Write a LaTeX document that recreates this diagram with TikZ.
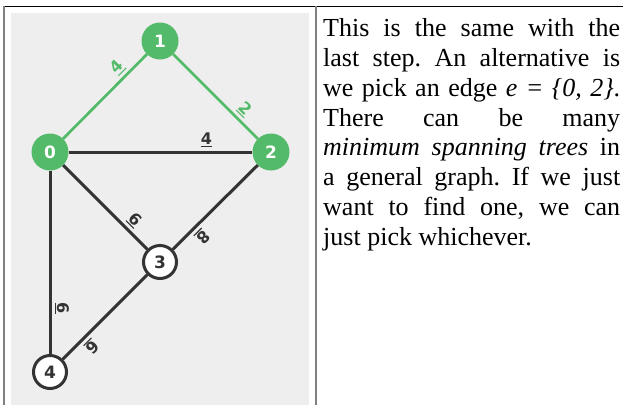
\documentclass[tikz,border=0pt]{standalone}
\usepackage{fontspec}
\setmainfont{Liberation Serif}
\newfontfamily\djsans{DejaVu Sans}
\definecolor{mstgreen}{RGB}{82,186,104}
\definecolor{edgedark}{RGB}{51,51,51}
\definecolor{panelgray}{RGB}{238,238,238}
\definecolor{bordergray}{RGB}{128,128,128}
\newcommand\ulab[1]{\setbox0=\hbox{#1}\rlap{\rule[-2.6pt]{\wd0}{1.1pt}}\box0}
\tikzset{
  gnode/.style={circle, fill=mstgreen, draw=none, minimum size=37pt, inner sep=0pt,
    font=\djsans\bfseries\fontsize{17pt}{17pt}\selectfont, text=white},
  wnode/.style={circle, fill=white, draw=edgedark, line width=3pt, minimum size=33pt, inner sep=0pt,
    font=\djsans\bfseries\fontsize{17pt}{17pt}\selectfont, text=edgedark},
  gedge/.style={draw=mstgreen, line width=2.7pt},
  dedge/.style={draw=edgedark, line width=3pt},
  wlabel/.style={sloped, allow upside down, above=3.2pt, inner sep=0pt, pos=0.75,
    font=\djsans\bfseries\fontsize{16pt}{16pt}\selectfont},
}
\begin{document}
\frenchspacing
\begin{tikzpicture}[x=1pt,y=-1pt]
\useasboundingbox (0,0) rectangle (623,405);
\fill[white] (0,0) rectangle (623,405);
\fill[panelgray] (11,13) rectangle (309,405);
\draw[black, line width=1.2pt] (3.3,6.3) -- (623,6.3);
\draw[bordergray, line width=1.4pt] (4,6) -- (4,405);
\draw[bordergray, line width=2pt] (316,6) -- (316,405);

\node[gnode] (n1) at (160,41) {1};
\node[gnode] (n0) at (50,152) {0};
\node[gnode] (n2) at (271,152) {2};
\node[wnode] (n3) at (160,262) {3};
\node[wnode] (n4) at (50,372) {4};

\draw[gedge] (n0) -- node[wlabel, text=mstgreen] {\ulab{4}} (n1);
\draw[gedge] (n1) -- node[wlabel, text=mstgreen] {\ulab{2}} (n2);
\draw[dedge] (n0) -- node[wlabel, text=edgedark] {\ulab{4}} (n2);
\draw[dedge] (n0) -- node[wlabel, text=edgedark] {\ulab{6}} (n3);
\draw[dedge] (n2) -- node[wlabel, text=edgedark] {\ulab{8}} (n3);
\draw[dedge] (n0) -- node[wlabel, text=edgedark] {\ulab{6}} (n4);
\draw[dedge] (n3) -- node[wlabel, text=edgedark] {\ulab{6}} (n4);

\node[anchor=base west, text width=297pt, align=justify, inner sep=0pt,
  font=\fontsize{26pt}{29.8pt}\selectfont] (txt) at (323,36.7)
  {This is the same with the\linebreak
   last step. An alternative is\linebreak
   we pick an edge \textit{e = \{0, 2\}}.\linebreak
   There can be many\linebreak
   \textit{minimum spanning trees} in\linebreak
   a general graph. If we just\linebreak
   want to find one, we can\linebreak
   just pick whichever.};
\end{tikzpicture}
\end{document}
